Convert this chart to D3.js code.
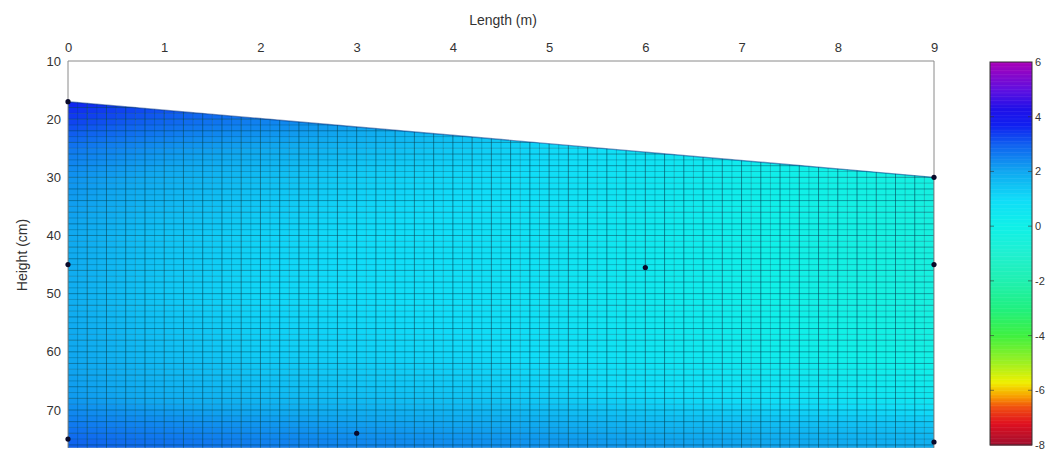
<!DOCTYPE html>
<html>
<head>
<meta charset="utf-8">
<script src="https://cdn.jsdelivr.net/npm/d3@7"></script>
<style>
  html, body { margin: 0; padding: 0; background: #fff; }
  svg { display: block; font-family: "Liberation Sans", Arial, sans-serif; }
</style>
</head>
<body>
<svg id="chart" width="1047" height="453"></svg>
<script>
// Potential field (colour value) at mesh nodes: columns are positions along the
// length (m), rows are heights (cm).
const nodeX = [0, 1, 2, 3, 4, 5, 6, 7, 8, 9];
const nodeH = [15, 20, 25, 30, 40, 50, 60, 68, 72, 77];
const nodeValues = [
  [3.9, 3.5, 3.0, 2.6, 2.2, 1.8, 1.4, 1.0, 0.6, 0.2],
  [3.4, 3.0, 2.6, 2.2, 1.8, 1.5, 1.2, 0.8, 0.4, 0.1],
  [2.7, 2.3, 2.0, 1.7, 1.4, 1.1, 0.8, 0.4, 0.0, -0.2],
  [2.3, 1.9, 1.6, 1.3, 1.1, 0.9, 0.6, 0.2, -0.1, -0.3],
  [2.0, 1.5, 1.2, 1.0, 0.9, 0.7, 0.4, 0.1, -0.2, -0.4],
  [1.9, 1.4, 1.1, 1.0, 0.9, 0.7, 0.4, 0.1, -0.2, -0.4],
  [2.0, 1.6, 1.3, 1.2, 1.1, 0.9, 0.6, 0.3, 0.0, -0.2],
  [2.2, 1.9, 1.7, 1.6, 1.5, 1.3, 1.1, 0.9, 0.7, 0.5],
  [2.6, 2.4, 2.2, 2.1, 2.0, 1.9, 1.7, 1.6, 1.5, 1.4],
  [3.1, 2.9, 2.7, 2.6, 2.5, 2.4, 2.3, 2.2, 2.1, 2.0]
];

// Upper surface of the section: length (m) and height (cm)
const surfaceX = [0, 9];
const surfaceH = [17, 30];

// Sensor locations
const sensorX = [0, 0, 0, 3, 6, 9, 9, 9];
const sensorH = [17, 45, 75, 74, 45.5, 30, 45, 75.5];

// Axis ticks
const xTicks = [0, 1, 2, 3, 4, 5, 6, 7, 8, 9];
const yTicks = [10, 20, 30, 40, 50, 60, 70];
const cbTicks = [6, 4, 2, 0, -2, -4, -6, -8];

// Colour map (value -> colour)
const cmapValues = [-8, -7.2, -6.6, -6.2, -5.7, -5, -4, -3, -2, -1, 0, 1, 2, 3, 3.7, 4.3, 5, 6];
const cmapColors = ["#a01030", "#e01020", "#f05010", "#f8a000", "#f0f000", "#a0f020",
  "#40f040", "#20f080", "#20f0b0", "#20f0d0", "#10f0e8", "#10dcf8", "#10a8f0",
  "#1060f0", "#1020f0", "#2010e8", "#6010e0", "#a800b8"];

const svg = d3.select("#chart");

const x = d3.scaleLinear().domain([0, 9]).range([68, 934]);
const y = d3.scaleLinear().domain([10, 76.5]).range([61, 447.8]);
const color = d3.scaleLinear().domain(cmapValues).range(cmapColors).clamp(true);

// bilinear lookup in the node grid
function fieldAt(px, ph) {
  const i = Math.max(0, Math.min(nodeX.length - 2, d3.bisectRight(nodeX, px) - 1));
  const j = Math.max(0, Math.min(nodeH.length - 2, d3.bisectRight(nodeH, ph) - 1));
  const tx = Math.max(0, Math.min(1, (px - nodeX[i]) / (nodeX[i + 1] - nodeX[i])));
  const th = Math.max(0, Math.min(1, (ph - nodeH[j]) / (nodeH[j + 1] - nodeH[j])));
  const a = nodeValues[j][i], b = nodeValues[j][i + 1];
  const c = nodeValues[j + 1][i], d = nodeValues[j + 1][i + 1];
  return (a * (1 - tx) + b * tx) * (1 - th) + (c * (1 - tx) + d * tx) * th;
}

// clip the mesh to the section outline
const outline = [
  [surfaceX[0], surfaceH[0]], [surfaceX[1], surfaceH[1]],
  [surfaceX[1], 76.5], [surfaceX[0], 76.5]
];
svg.append("clipPath").attr("id", "section")
  .append("path")
  .attr("d", d3.line().x(d => x(d[0])).y(d => y(d[1]))(outline) + "Z");

// mesh cells
const colEdges = d3.range(0, 9.0001, 0.1);
const rowEdges = d3.range(14, 76.5001, 1).concat([76.5]);
const cells = [];
for (let c = 0; c < colEdges.length - 1; c++) {
  for (let r = 0; r < rowEdges.length - 1; r++) {
    if (rowEdges[r + 1] <= rowEdges[r]) continue;
    cells.push({ x0: colEdges[c], x1: colEdges[c + 1], h0: rowEdges[r], h1: rowEdges[r + 1] });
  }
}
const mesh = svg.append("g").attr("clip-path", "url(#section)");
mesh.selectAll("rect.cell").data(cells).join("rect")
  .attr("class", "cell")
  .attr("x", d => x(d.x0))
  .attr("y", d => y(d.h0))
  .attr("width", d => x(d.x1) - x(d.x0) + 0.4)
  .attr("height", d => y(d.h1) - y(d.h0) + 0.4)
  .attr("fill", d => color(fieldAt((d.x0 + d.x1) / 2, (d.h0 + d.h1) / 2)));

// mesh lines
mesh.selectAll("line.v").data(colEdges).join("line")
  .attr("class", "v")
  .attr("x1", d => x(d)).attr("x2", d => x(d))
  .attr("y1", y(10)).attr("y2", y(76.5))
  .attr("stroke", "#00465a")
  .attr("stroke-opacity", (d, i) => i % 2 === 0 ? 0.6 : 0.3)
  .attr("stroke-width", 1);
mesh.selectAll("line.h").data(rowEdges).join("line")
  .attr("class", "h")
  .attr("x1", x(0)).attr("x2", x(9))
  .attr("y1", d => y(d)).attr("y2", d => y(d))
  .attr("stroke", "#00465a")
  .attr("stroke-opacity", (d, i) => i % 2 === 0 ? 0.5 : 0.3)
  .attr("stroke-width", 1);

// darker rim along the surface
svg.append("line")
  .attr("x1", x(surfaceX[0])).attr("y1", y(surfaceH[0]))
  .attr("x2", x(surfaceX[1])).attr("y2", y(surfaceH[1]))
  .attr("stroke", "#003080").attr("stroke-opacity", 0.5).attr("stroke-width", 1.4);

// axes frame
const frame = svg.append("g").attr("fill", "none").attr("stroke", "#8a8a8a").attr("stroke-width", 1);
frame.append("line").attr("x1", x(0)).attr("x2", x(9)).attr("y1", y(10)).attr("y2", y(10));
frame.append("line").attr("x1", x(0)).attr("x2", x(0)).attr("y1", y(10)).attr("y2", y(76.5));
frame.append("line").attr("x1", x(9)).attr("x2", x(9)).attr("y1", y(10)).attr("y2", y(76.5));

// top axis
const xAxis = d3.axisTop(x).tickValues(xTicks).tickSize(0).tickPadding(9).tickFormat(d => String(d));
const gx = svg.append("g").attr("transform", `translate(0,${y(10)})`).call(xAxis);
gx.select(".domain").remove();
gx.selectAll("text").attr("fill", "#333").attr("font-size", 13)
  .attr("font-family", "Liberation Sans, Arial, sans-serif");

// left axis
const yAxis = d3.axisLeft(y).tickValues(yTicks).tickSize(0).tickPadding(7).tickFormat(d => String(d));
const gy = svg.append("g").attr("transform", `translate(${x(0)},0)`).call(yAxis);
gy.select(".domain").remove();
gy.selectAll("text").attr("fill", "#333").attr("font-size", 13)
  .attr("font-family", "Liberation Sans, Arial, sans-serif");

// axis titles
svg.append("text").attr("x", 503).attr("y", 25).attr("text-anchor", "middle")
  .attr("font-size", 14).attr("fill", "#333").text("Length (m)");
svg.append("text").attr("transform", "translate(27,255) rotate(-90)").attr("text-anchor", "middle")
  .attr("font-size", 14).attr("fill", "#333").text("Height (cm)");

// sensors
svg.selectAll("circle.sensor").data(sensorX.map((d, i) => [d, sensorH[i]])).join("circle")
  .attr("class", "sensor")
  .attr("cx", d => x(d[0])).attr("cy", d => y(d[1]))
  .attr("r", 2.6).attr("fill", "#0a0a2a");

// colour bar
const cb = d3.scaleLinear().domain([-8, 6]).range([445, 62]);
const cbX = 990, cbW = 42;
const steps = d3.range(-8, 6, 0.05);
svg.append("g").selectAll("rect").data(steps).join("rect")
  .attr("x", cbX).attr("width", cbW)
  .attr("y", d => cb(d + 0.05))
  .attr("height", d => cb(d) - cb(d + 0.05) + 0.5)
  .attr("fill", d => color(d + 0.025));
svg.append("rect").attr("x", cbX).attr("y", cb(6)).attr("width", cbW).attr("height", cb(-8) - cb(6))
  .attr("fill", "none").attr("stroke", "#333").attr("stroke-width", 1);
const cbAxis = d3.axisRight(cb).tickValues(cbTicks).tickSize(0).tickPadding(3).tickFormat(d => String(d));
const gc = svg.append("g").attr("transform", `translate(${cbX + cbW},0)`).call(cbAxis);
gc.select(".domain").remove();
gc.selectAll("text").attr("fill", "#333").attr("font-size", 11)
  .attr("font-family", "Liberation Sans, Arial, sans-serif");
// inner tick marks on the colour bar
svg.append("g").selectAll("line").data(cbTicks.slice(1, -1)).join("line")
  .attr("x1", cbX).attr("x2", cbX + 4)
  .attr("y1", d => cb(d)).attr("y2", d => cb(d))
  .attr("stroke", "#333").attr("stroke-opacity", 0.6);
svg.append("g").selectAll("line").data(cbTicks.slice(1, -1)).join("line")
  .attr("x1", cbX + cbW - 4).attr("x2", cbX + cbW)
  .attr("y1", d => cb(d)).attr("y2", d => cb(d))
  .attr("stroke", "#333").attr("stroke-opacity", 0.6);
</script>
</body>
</html>
